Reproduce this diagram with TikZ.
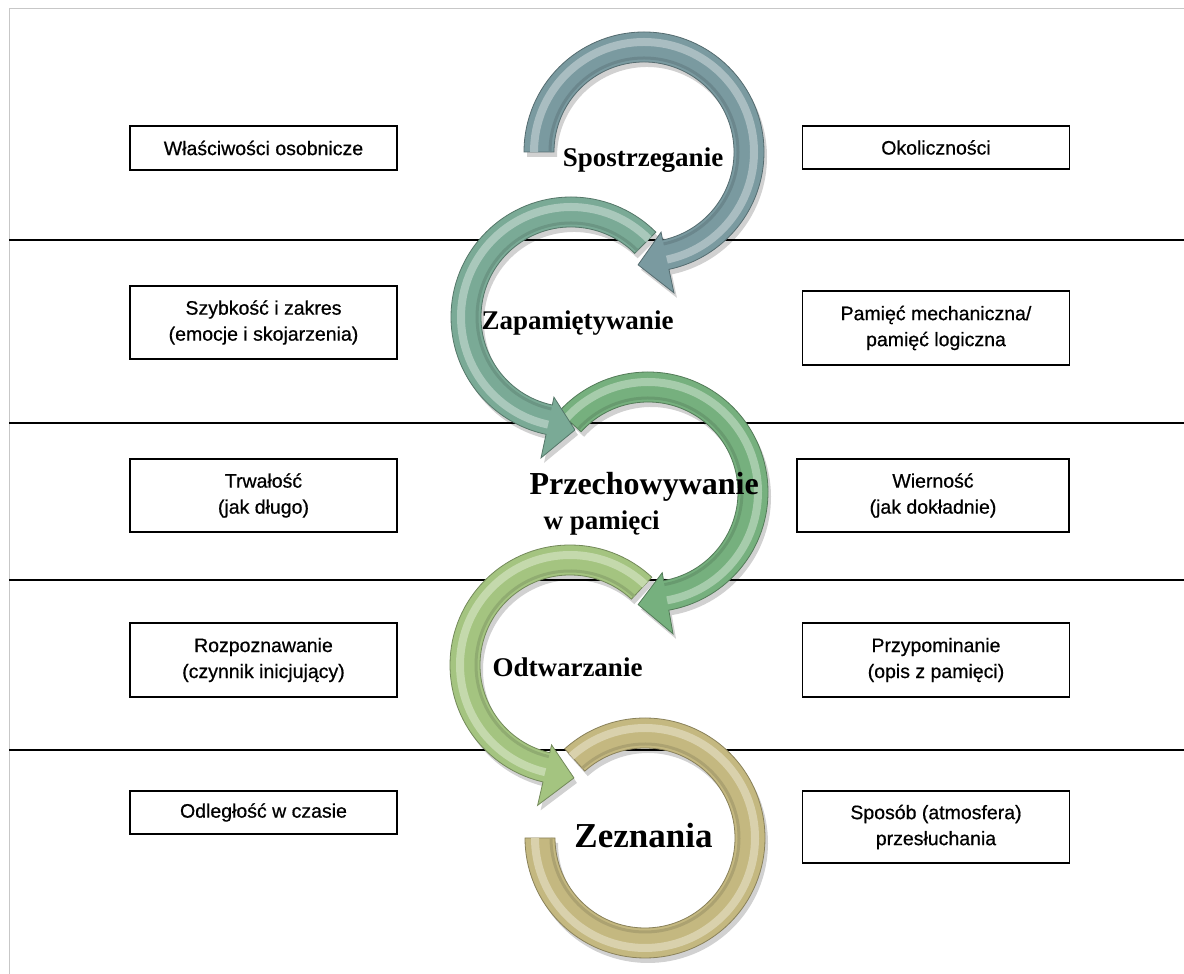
\documentclass[tikz,border=0pt]{standalone}
\usepackage{fontspec}
\setmainfont{Liberation Serif}
\newfontfamily\boxfont{Liberation Sans}[FakeBold=0.6]

\definecolor{ringA}{RGB}{122,154,160}
\definecolor{ringB}{RGB}{122,170,150}
\definecolor{ringC}{RGB}{118,176,126}
\definecolor{ringD}{RGB}{164,196,128}
\definecolor{ringE}{RGB}{196,184,128}

% thick ring with an arrow head: start angle, angle of head base, angle of tip
\newcommand{\arrowpath}[3]{(#1:120) arc[start angle=#1, end angle=#2, radius=120pt]
  -- (#2:144) -- (#3:113) -- (#2:82) -- (#2:90)
  arc[start angle=#2, end angle=#1, radius=90pt] -- cycle}
% centre, start, head base, tip, colour
\newcommand{\ringarrow}[5]{%
  \begin{scope}[shift={(#1)}]
    \fill[black, opacity=.18, shift={(3,-5)}] \arrowpath{#2}{#3}{#4};
    \fill[#5, draw=#5!70!black, line width=.8pt] \arrowpath{#2}{#3}{#4};
    \draw[#5!65!white, line width=8pt] (#2:110) arc[start angle=#2, end angle=#3, radius=110pt];
    \draw[#5!88!black, line width=3pt] (#2:94) arc[start angle=#2, end angle=#3, radius=94pt];
  \end{scope}}
% centre, start, end, colour (no head)
\newcommand{\ringband}[4]{%
  \begin{scope}[shift={(#1)}]
    \fill[black, opacity=.18, shift={(3,-5)}] (#2:120) arc[start angle=#2, end angle=#3, radius=120pt]
      -- (#3:90) arc[start angle=#3, end angle=#2, radius=90pt] -- cycle;
    \fill[#4, draw=#4!70!black, line width=.8pt] (#2:120) arc[start angle=#2, end angle=#3, radius=120pt]
      -- (#3:90) arc[start angle=#3, end angle=#2, radius=90pt] -- cycle;
    \draw[#4!65!white, line width=8pt] (#2:110) arc[start angle=#2, end angle=#3, radius=110pt];
    \draw[#4!88!black, line width=3pt] (#2:94) arc[start angle=#2, end angle=#3, radius=94pt];
  \end{scope}}

\tikzset{
  factbox/.style={draw, line width=1.2pt, minimum width=267pt, inner sep=0pt, align=center,
    font=\boxfont\fontsize{19.5}{26}\selectfont},
  stagelabel/.style={font=\bfseries\fontsize{27}{35}\selectfont, align=left},
}

\begin{document}
\begin{tikzpicture}[x=1pt,y=1pt]
    \useasboundingbox (0,0) rectangle (1184,974);
    \clip (0,0) rectangle (1184,974);
    \fill[white] (0,0) rectangle (1184,974);
    \draw[black!22, line width=1pt] (9,-10) -- (9,965) -- (1200,965);
    % separators
    \foreach \y in {734,551,394,224}
        \draw[line width=1.5pt] (9,\y) -- (1184,\y);

    % rings, last one first
    \ringband{645,136}{132}{-180}{ringE}
    \ringarrow{570,309}{47}{257}{272}{ringD}
    \ringarrow{648,482}{138}{-80}{-95}{ringC}
    \ringarrow{571,657}{45}{258}{272}{ringB}
    \ringarrow{644,822}{180}{-78}{-93}{ringA}

    % stages
    \node[stagelabel, anchor=base] (perc) at (643,807) {Spostrzeganie};
    \node[stagelabel, anchor=base] (encode) at (577.5,644) {Zapamiętywanie};
    \node[stagelabel, anchor=west] (store) at (526,470)
        {{\fontsize{32}{36}\selectfont Przechowywanie}\\\hspace*{14pt}w pamięci};
    \node[stagelabel, anchor=base] (recall) at (567.5,297) {Odtwarzanie};
    \node[stagelabel, anchor=base, font=\bfseries\fontsize{35}{40}\selectfont] (testim) at (643.5,126) {Zeznania};

    % left column
    \node[factbox, minimum height=44pt] (traits) at (263.5,826) {Właściwości osobnicze};
    \node[factbox, minimum height=73pt] (speed) at (263.5,651.5) {Szybkość i zakres\\(emocje i skojarzenia)};
    \node[factbox, minimum height=73pt] (durab) at (263.5,478.5) {Trwałość\\(jak długo)};
    \node[factbox, minimum height=74pt] (recog) at (263.5,314) {Rozpoznawanie\\(czynnik inicjujący)};
    \node[factbox, minimum height=43pt] (delay) at (263.5,161.5) {Odległość w czasie};

    % right column
    \node[factbox, minimum height=43pt] (circ) at (936,826.5) {Okoliczności};
    \node[factbox, minimum height=74pt] (rote) at (936,646) {Pamięć mechaniczna/\\pamięć logiczna};
    \node[factbox, minimum height=73pt, minimum width=272pt] (fidel) at (933,478.5) {Wierność\\(jak dokładnie)};
    \node[factbox, minimum height=74pt] (remind) at (936,314) {Przypominanie\\(opis z pamięci)};
    \node[factbox, minimum height=72pt] (manner) at (936,147) {Sposób (atmosfera)\\przesłuchania};
\end{tikzpicture}
\end{document}
